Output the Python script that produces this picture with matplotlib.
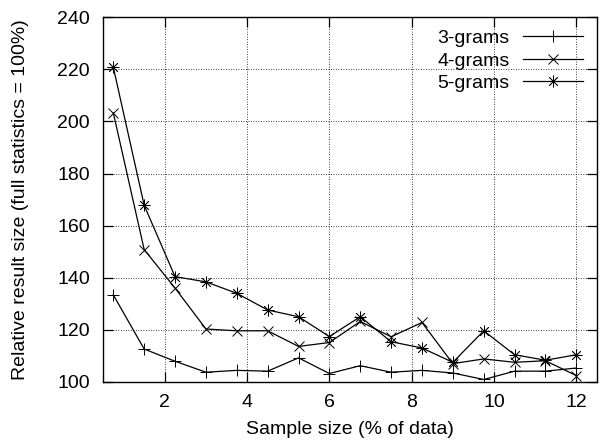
import matplotlib
matplotlib.use("Agg")
import matplotlib.pyplot as plt

plt.rcParams['font.family'] = ['Liberation Sans', 'DejaVu Sans']

sample_pct = [0.75, 1.5, 2.25, 3.0, 3.75, 4.5, 5.25, 6.0, 6.75, 7.5, 8.25, 9.0, 9.75, 10.5, 11.25, 12.0]
grams3 = [133.4, 112.6, 107.9, 103.7, 104.4, 104.1, 109.2, 103.2, 106.2, 103.7, 104.4, 103.4, 100.9, 104.1, 104.1, 105.3]
grams4 = [203.3, 150.8, 136.0, 120.3, 119.6, 119.6, 113.6, 115.1, 123.2, 117.3, 122.8, 107.0, 108.8, 107.5, 108.1, 102.4]
grams5 = [220.8, 167.8, 140.4, 138.4, 134.0, 127.6, 125.0, 117.4, 125.0, 115.4, 113.0, 107.5, 119.6, 110.4, 108.3, 110.4]
series_labels = ["3-grams", "4-grams", "5-grams"]
x_ticks = [2, 4, 6, 8, 10, 12]
y_ticks = [100, 120, 140, 160, 180, 200, 220, 240]

FS = 14
fig = plt.figure(figsize=(6.06, 4.44), dpi=100)
ax = fig.add_axes([0.170, 0.140, 0.815, 0.821])

asterisk = (8, 2, 0)
ax.plot(sample_pct, grams3, color='black', lw=0.9, marker='+', ms=9, mew=0.7, label=series_labels[0])
ax.plot(sample_pct, grams4, color='black', lw=0.9, marker='x', ms=7, mew=0.7, label=series_labels[1])
ax.plot(sample_pct, grams5, color='black', lw=0.9, marker=asterisk, ms=8.5, mew=0.55, label=series_labels[2])

ax.set_xlim(0.5, 12.5)
ax.set_ylim(100, 240)
ax.set_xticks(x_ticks)
ax.set_yticks(y_ticks)
ax.grid(True, color='black', linestyle=(0, (1, 2)), linewidth=0.6)
ax.tick_params(direction='in', length=7, width=0.9, top=True, right=True, labelsize=FS)
ax.tick_params(axis='y', pad=9.5)
ax.tick_params(axis='x', pad=9)
for s in ax.spines.values():
    s.set_linewidth(1.0)

ax.set_xlabel("Sample size (% of data)", fontsize=FS, labelpad=7)
ax.set_ylabel("Relative result size (full statistics = 100%)", fontsize=FS, labelpad=20)

leg = ax.legend(loc='upper right', bbox_to_anchor=(0.972, 0.967), frameon=False, markerfirst=False,
                fontsize=FS, handlelength=3.1, handletextpad=0.67, labelspacing=0.26, borderpad=0.0,
                borderaxespad=0.0)

fig.savefig("out.png", dpi=100)
